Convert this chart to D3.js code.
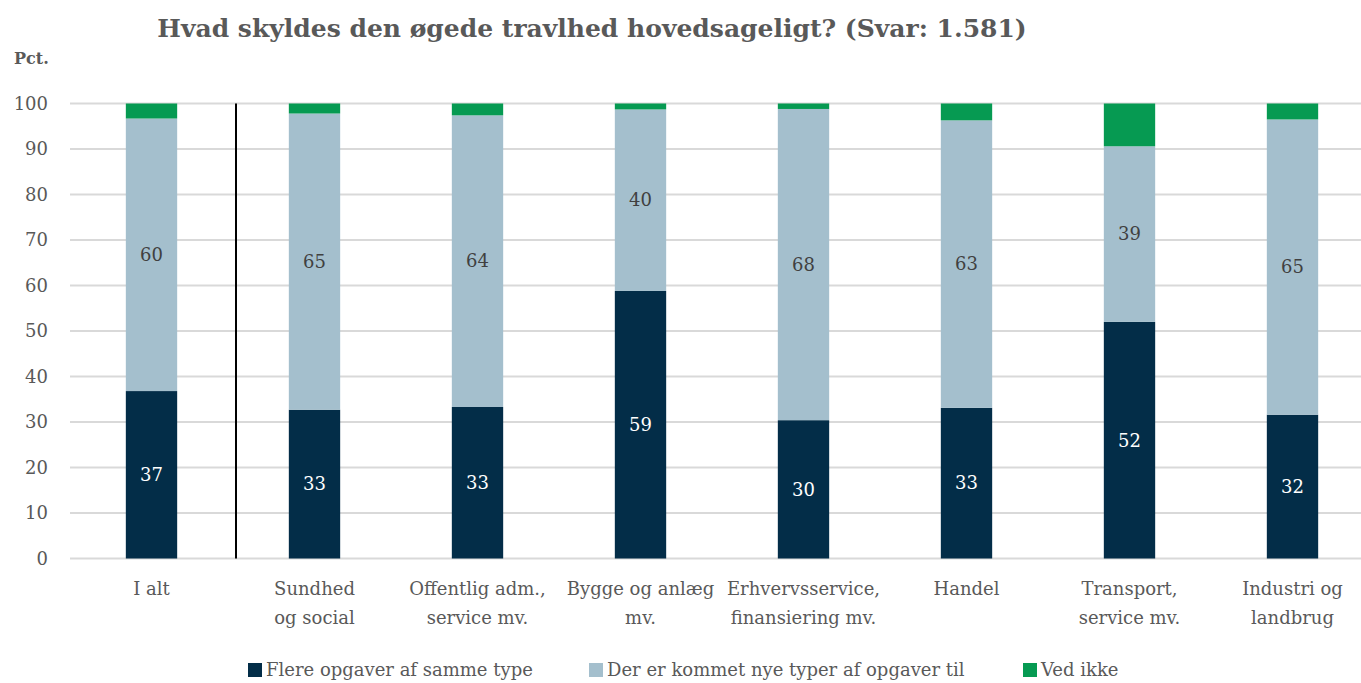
<!DOCTYPE html>
<html>
<head>
<meta charset="utf-8">
<script src="https://cdn.jsdelivr.net/npm/d3@7"></script>
<style>
  body { margin: 0; background: #fff; }
  svg text { font-family: "DejaVu Serif", "Liberation Serif", serif; }
</style>
</head>
<body>
<svg id="chart" width="1361" height="683"></svg>
<script>
// Categories (line breaks as shown on the axis)
const categories = [
  ["I alt"],
  ["Sundhed", "og social"],
  ["Offentlig adm.,", "service mv."],
  ["Bygge og anlæg", "mv."],
  ["Erhvervsservice,", "finansiering mv."],
  ["Handel"],
  ["Transport,", "service mv."],
  ["Industri og", "landbrug"]
];
const seriesNames = ["Flere opgaver af samme type", "Der er kommet nye typer af opgaver til", "Ved ikke"];
const flere   = [36.8, 32.7, 33.3, 58.8, 30.4, 33.1, 52.0, 31.6];
const nye     = [59.9, 65.1, 64.1, 39.9, 68.4, 63.2, 38.6, 64.9];
const vedIkke = [3.3, 2.2, 2.6, 1.3, 1.2, 3.7, 9.4, 3.5];
const yTicks = [0, 10, 20, 30, 40, 50, 60, 70, 80, 90, 100];
const colors = ["#032d48", "#a4bfcd", "#069a52"];

const svg = d3.select("#chart");
const margin = { top: 103.5, left: 70, bottom: 683 - 558.5 };
const plotH = 683 - margin.top - margin.bottom;

const keys = categories.map(c => c.join(" "));
const rows = keys.map((k, i) => ({ key: k, flere: flere[i], nye: nye[i], ved: vedIkke[i] }));
const stack = d3.stack().keys(["flere", "nye", "ved"]);
const layers = stack(rows);

const x = d3.scaleBand().domain(keys).range([margin.left, margin.left + 163 * 8]).paddingInner(0.685).paddingOuter(0.3425);
const y = d3.scaleLinear().domain([0, 100]).range([margin.top + plotH, margin.top]);

// gridlines
svg.append("g").selectAll("line").data(yTicks).join("line")
  .attr("x1", margin.left).attr("x2", 1361)
  .attr("y1", d => y(d)).attr("y2", d => y(d))
  .attr("stroke", "#d9d9d9").attr("stroke-width", 2);

// y tick labels
svg.append("g").selectAll("text").data(yTicks).join("text")
  .attr("x", 48).attr("y", d => y(d)).attr("dy", "0.35em")
  .attr("text-anchor", "end").attr("font-size", 18).attr("fill", "#595959")
  .text(d => d);

svg.append("text").attr("x", 14).attr("y", 64).attr("font-size", 16).attr("font-weight", "bold")
  .attr("fill", "#595959").text("Pct.");

// title
svg.append("text").attr("x", 592).attr("y", 37).attr("text-anchor", "middle")
  .attr("font-size", 25).attr("font-weight", "bold").attr("fill", "#595959")
  .text("Hvad skyldes den øgede travlhed hovedsageligt? (Svar: 1.581)");

// bars
const layerG = svg.append("g").selectAll("g").data(layers).join("g")
  .attr("fill", (d, i) => colors[i]);
layerG.selectAll("rect").data(d => d).join("rect")
  .attr("x", d => x(d.data.key))
  .attr("width", x.bandwidth())
  .attr("y", d => y(d[1]))
  .attr("height", d => y(d[0]) - y(d[1]));

// data labels (first two series)
layers.slice(0, 2).forEach((layer, li) => {
  svg.append("g").selectAll("text").data(layer).join("text")
    .attr("x", d => x(d.data.key) + x.bandwidth() / 2)
    .attr("y", d => y((d[0] + d[1]) / 2))
    .attr("dy", "0.35em").attr("text-anchor", "middle").attr("font-size", 18)
    .attr("fill", li === 0 ? "#ffffff" : "#404040")
    .text(d => Math.round(d[1] - d[0]));
});

// separator between "I alt" and the sectors
const sepX = x(keys[0]) + x.bandwidth() + (x.step() - x.bandwidth()) / 2 + 3;
svg.append("line").attr("x1", sepX).attr("x2", sepX)
  .attr("y1", y(100)).attr("y2", y(0))
  .attr("stroke", "#000").attr("stroke-width", 2);

// category labels
const catG = svg.append("g").selectAll("text").data(categories).join("text")
  .attr("text-anchor", "middle").attr("font-size", 18).attr("fill", "#595959")
  .attr("x", (d, i) => x(keys[i]) + x.bandwidth() / 2)
  .attr("y", 595);
catG.selectAll("tspan").data(d => d).join("tspan")
  .attr("x", function() { return d3.select(this.parentNode).attr("x"); })
  .attr("dy", (d, i) => i === 0 ? 0 : 29)
  .text(d => d);

// legend
const legendX = [248, 589, 1023];
const leg = svg.append("g").selectAll("g").data(seriesNames).join("g")
  .attr("transform", (d, i) => `translate(${legendX[i]}, 670)`);
leg.append("rect").attr("x", 0).attr("y", -7).attr("width", 14).attr("height", 14)
  .attr("fill", (d, i) => colors[i]);
leg.append("text").attr("x", 18).attr("y", 0).attr("dy", "0.35em")
  .attr("font-size", 18).attr("fill", "#595959").text(d => d);
</script>
</body>
</html>
